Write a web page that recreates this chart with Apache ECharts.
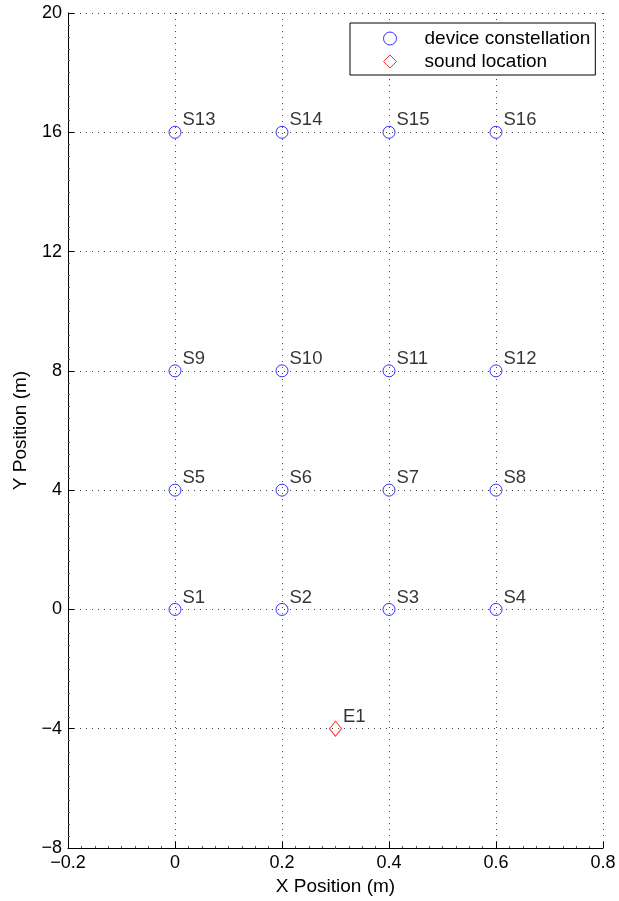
<!DOCTYPE html>
<html><head><meta charset="utf-8">
<script src="https://cdn.jsdelivr.net/npm/echarts@6/dist/echarts.min.js"></script>
<style>html,body{margin:0;padding:0;background:#fff}#c{width:619px;height:901px}</style>
</head><body><div id="c"></div>
<script>
const sensorX = [0, 0.2, 0.4, 0.6, 0, 0.2, 0.4, 0.6, 0, 0.2, 0.4, 0.6, 0, 0.2, 0.4, 0.6];
const sensorY = [0, 0, 0, 0, 4, 4, 4, 4, 8, 8, 8, 8, 16, 16, 16, 16];
const sensorNames = ['S1','S2','S3','S4','S5','S6','S7','S8','S9','S10','S11','S12','S13','S14','S15','S16'];
const soundX = [0.3];
const soundY = [-4];
const soundNames = ['E1'];
const xTicks = [-0.2, 0, 0.2, 0.4, 0.6, 0.8];
const yTicks = [-8, -4, 0, 4, 8, 12, 16, 20];

const FONT = '"Liberation Sans", Arial, Helvetica, sans-serif';
const fmt = v => String(Math.round(v * 10) / 10).replace('-', '\u2212');
const labelStyle = {show: true, position: 'right', formatter: p => p.data[2], offset: [-4, -12], fontFamily: FONT, fontSize: 18.5, color: '#000'};

const chart = echarts.init(document.getElementById('c'), null, {renderer: 'canvas'});
const axisCommon = {
  axisLine: {show: true, onZero: false, lineStyle: {color: '#000', width: 1}},
  axisTick: {show: true, inside: true, length: 6, lineStyle: {color: '#000'}},
  minorTick: {show: true, length: 2, lineStyle: {color: '#555'}},
  splitLine: {show: true, lineStyle: {color: '#444', type: [1, 5], width: 1}},
  axisLabel: {fontFamily: FONT, fontSize: 18, color: '#000', formatter: fmt},
  nameTextStyle: {fontFamily: FONT, fontSize: 19, color: '#000'}
};
chart.setOption({
  animation: false,
  backgroundColor: '#fff',
  grid: {left: 68, right: 16, top: 13, bottom: 50, containLabel: false},
  xAxis: Object.assign({}, axisCommon, {
    type: 'value', min: xTicks[0], max: xTicks[xTicks.length - 1], interval: 0.2,
    name: 'X Position (m)', nameLocation: 'middle', nameGap: 29,
    minorTick: Object.assign({}, axisCommon.minorTick, {splitNumber: 8}),
    axisLabel: Object.assign({}, axisCommon.axisLabel, {margin: 6})
  }),
  yAxis: Object.assign({}, axisCommon, {
    type: 'value', min: yTicks[0], max: yTicks[yTicks.length - 1], interval: 4,
    name: 'Y Position (m)', nameLocation: 'middle', nameGap: 36,
    minorTick: Object.assign({}, axisCommon.minorTick, {splitNumber: 10}),
    axisLabel: Object.assign({}, axisCommon.axisLabel, {margin: 6})
  }),
  legend: {
    show: true, orient: 'vertical', left: 350, top: 23,
    backgroundColor: '#fff', borderColor: '#000', borderWidth: 1,
    padding: [6, 5, 4, 33], itemGap: 4, itemWidth: 13, itemHeight: 13,
    textStyle: {fontFamily: FONT, fontSize: 19, lineHeight: 19, color: '#000', padding: [0, 0, 0, 23]},
    data: [
      {name: 'device constellation', icon: 'circle', itemStyle: {color: 'rgba(0,0,0,0)', borderColor: '#0000ff', borderWidth: 1}},
      {name: 'sound location', icon: 'diamond', itemStyle: {color: 'rgba(0,0,0,0)', borderColor: '#ff0000', borderWidth: 1}}
    ]
  },
  series: [
    {
      name: 'device constellation', type: 'scatter', symbol: 'circle', symbolSize: 12,
      itemStyle: {color: 'rgba(0,0,0,0)', borderColor: '#0000ff', borderWidth: 1},
      label: labelStyle,
      data: sensorX.map((x, i) => [x, sensorY[i], sensorNames[i]])
    },
    {
      name: 'sound location', type: 'scatter', symbol: 'diamond', symbolSize: [12, 15],
      itemStyle: {color: 'rgba(0,0,0,0)', borderColor: '#ff0000', borderWidth: 1},
      label: labelStyle,
      data: soundX.map((x, i) => [x, soundY[i], soundNames[i]])
    }
  ]
});
</script></body></html>
